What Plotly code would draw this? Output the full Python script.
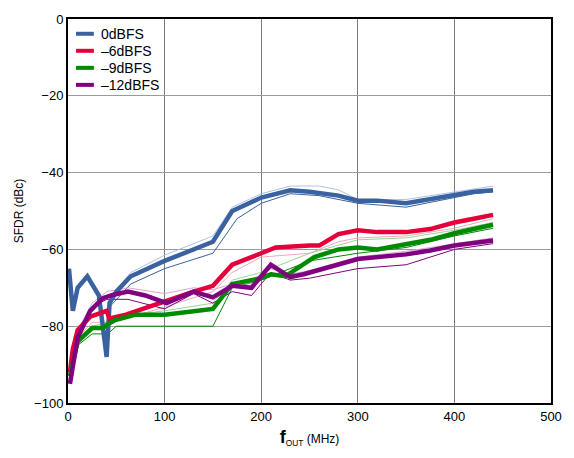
import plotly.graph_objects as go

# ---- data ----
f_0 = [1, 5, 10, 20, 32, 40, 43, 50, 65, 100, 150, 170, 200, 230, 250, 280, 300, 320, 350, 375, 400, 420, 440]
db_0 = [-65, -76, -70, -67, -72, -88, -74, -71, -67, -63, -58, -50, -46.5, -44.6, -45, -46, -47.3, -47.3, -48, -47, -46, -45, -44.6]
f_0a = [43, 65, 100, 150, 175, 200, 230, 260, 300, 350, 380, 420, 440]
db_0a = [-75, -69, -65, -61, -52, -48, -45.5, -46, -48, -49, -47.5, -45.5, -45]
f_0b = [45, 65, 100, 150, 170, 200, 230, 260, 280, 300, 350, 400, 440]
db_0b = [-72, -66, -61.5, -56.5, -49, -45.5, -43.5, -43.5, -44.5, -47, -47, -45, -43.5]

f_6 = [2, 5, 10, 23, 40, 43, 60, 100, 130, 150, 170, 200, 215, 250, 260, 280, 300, 320, 350, 375, 400, 420, 440]
db_6 = [-92, -86, -81, -77.5, -76, -78, -77, -73.5, -71, -69.5, -64, -61, -59.5, -59, -59, -56, -55, -55.5, -55.5, -54.7, -53, -52, -51]
f_6a = [2, 10, 25, 43, 60, 100, 150, 170, 200, 250, 280, 300, 350, 400, 440]
db_6a = [-88, -83, -79, -79, -78, -75, -71, -66, -62, -61, -58, -57, -56.5, -54.5, -52]

f_9 = [2, 10, 25, 36, 41, 48, 70, 100, 150, 170, 200, 210, 225, 240, 255, 280, 300, 320, 350, 375, 400, 420, 440]
db_9 = [-93, -84, -80.5, -80.5, -79.5, -78.5, -77, -77, -75.5, -69, -67.5, -66.5, -67, -64.5, -62, -60, -59.5, -60, -58.5, -57.5, -55.8, -54.8, -53.6]
f_9a = [2, 10, 25, 41, 50, 100, 150, 170, 200, 250, 300, 350, 400, 440]
db_9a = [-90, -85, -82, -82, -80, -80, -80, -70, -68, -63, -61, -59.5, -56.5, -54.5]
f_9b = [2, 10, 25, 41, 50, 100, 150, 170, 200, 250, 300, 350, 400, 440]
db_9b = [-91, -83, -80, -79, -77.5, -76, -74, -68, -66, -61, -57.5, -57, -55, -53]

f_12 = [2, 10, 23, 36, 47, 62, 80, 102, 130, 150, 170, 190, 210, 230, 245, 280, 300, 350, 375, 400, 440]
db_12 = [-95, -83, -76, -72.7, -71.8, -71, -72, -74, -71, -72.5, -69.5, -70, -64, -67.2, -66.4, -63.8, -62.5, -61.3, -60.3, -59, -57.7]
f_12a = [2, 10, 25, 40, 62, 100, 130, 150, 170, 190, 210, 230, 250, 300, 350, 400, 440]
db_12a = [-93, -82, -75, -73, -73, -75.5, -71.5, -74, -71, -72, -66, -68, -67.5, -65, -64, -60, -58.5]
f_12b = [2, 10, 25, 40, 62, 100, 130, 150, 170, 190, 210, 230, 250, 300, 350, 400, 440]
db_12b = [-94, -81, -74, -71, -70, -71.5, -70, -70.5, -69, -69, -65, -66.5, -65.5, -62, -60.5, -58.5, -57]

names = ["0dBFS", "\u20136dBFS", "\u20139dBFS", "\u201312dBFS"]
colors = ["#3A62A0", "#E4003A", "#008A00", "#800080"]
light = ["#AFC3E3", "#F2A6BC", "#98D498", "#D9A3D9"]

mains = [(f_0, db_0), (f_6, db_6), (f_9, db_9), (f_12, db_12)]
variants = [
    [(f_0a, db_0a, 0), (f_0b, db_0b, 1)],
    [(f_6a, db_6a, 1)],
    [(f_9a, db_9a, 0), (f_9b, db_9b, 1)],
    [(f_12a, db_12a, 0), (f_12b, db_12b, 1)],
]

fig = go.Figure()
for i, vs in enumerate(variants):
    for fx, dy, lt in vs:
        fig.add_trace(go.Scatter(x=fx, y=dy, mode="lines", showlegend=False,
                                 line=dict(color=light[i] if lt else colors[i], width=1),
                                 hoverinfo="skip"))
for i, (fx, dy) in enumerate(mains):
    fig.add_trace(go.Scatter(x=fx, y=dy, mode="lines", name=names[i], showlegend=False,
                             line=dict(color=colors[i], width=4.5)))

# ---- legend drawn in paper coordinates (plot area 485 x 390 px) ----
W, H = 485.0, 390.0
for i, nm in enumerate(names):
    yc = 1 - (15 + 17.3 * i) / H
    fig.add_shape(type="line", xref="paper", yref="paper",
                  x0=8 / W, x1=26 / W, y0=yc, y1=yc,
                  line=dict(color=colors[i], width=4))
    fig.add_annotation(xref="paper", yref="paper", x=31 / W, y=yc,
                       xanchor="left", yanchor="middle", showarrow=False,
                       text=nm, font=dict(size=14, color="black"))

fig.update_layout(
    width=574, height=458,
    margin=dict(l=68, r=21, t=13, b=55),
    paper_bgcolor="white", plot_bgcolor="white",
    font=dict(family="Liberation Sans, Arial, sans-serif", size=13, color="black"),
    showlegend=False,
)
fig.update_xaxes(range=[0, 500], tickvals=[0, 100, 200, 300, 400, 500],
                 showgrid=True, gridcolor="#7a7a7a", gridwidth=1,
                 showline=True, linecolor="black", linewidth=2, mirror=True,
                 zeroline=False, ticks="",
                 title=dict(text="<b><span style='font-size:18px'>f</span></b><sub>OUT</sub> (MHz)",
                            font=dict(size=12), standoff=12))
fig.update_yaxes(range=[-100, 0], tickvals=[-100, -80, -60, -40, -20, 0],
                 showgrid=True, gridcolor="#9a9a9a", gridwidth=1,
                 showline=True, linecolor="black", linewidth=2, mirror=True,
                 zeroline=False, ticks="",
                 title=dict(text="SFDR (dBc)", font=dict(size=12), standoff=8))

fig.write_html("out.html")
